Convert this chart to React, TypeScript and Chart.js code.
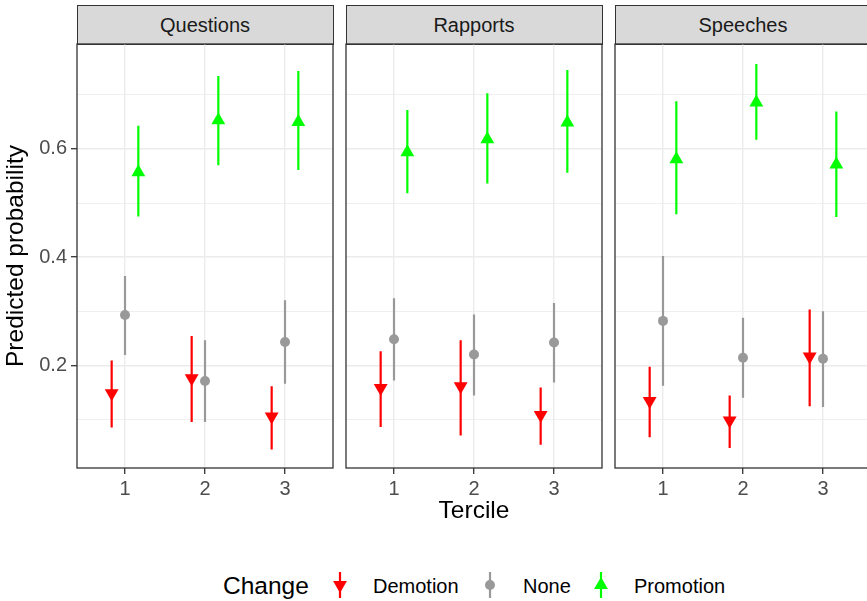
import React, { useEffect, useRef } from 'react';
import { Chart, registerables } from 'chart.js';

Chart.register(...registerables);

// ---------------- DATA ----------------
const facets = ['Questions', 'Rapports', 'Speeches'];
const terciles = [1, 2, 3];
const changes = ['Demotion', 'None', 'Promotion'];
const changeColors = ['#FF0000', '#999999', '#00FF00'];
const dodgeOffsets = [-1 / 6, 0, 1 / 6];

// rows = facets (Questions, Rapports, Speeches), columns = terciles 1..3
const demotionEstimate = [
  [0.148, 0.176, 0.105],
  [0.158, 0.161, 0.108],
  [0.134, 0.098, 0.216],
];
const demotionLower = [
  [0.085, 0.095, 0.044],
  [0.086, 0.07, 0.053],
  [0.067, 0.047, 0.124],
];
const demotionUpper = [
  [0.209, 0.254, 0.161],
  [0.226, 0.246, 0.159],
  [0.197, 0.144, 0.303],
];

const noneEstimate = [
  [0.293, 0.171, 0.243],
  [0.248, 0.22, 0.242],
  [0.282, 0.214, 0.212],
];
const noneLower = [
  [0.219, 0.095, 0.166],
  [0.172, 0.144, 0.168],
  [0.162, 0.14, 0.123],
];
const noneUpper = [
  [0.365, 0.246, 0.32],
  [0.324, 0.294, 0.315],
  [0.402, 0.288, 0.3],
];

const promotionEstimate = [
  [0.557, 0.653, 0.65],
  [0.594, 0.618, 0.649],
  [0.581, 0.686, 0.571],
];
const promotionLower = [
  [0.475, 0.57, 0.561],
  [0.518, 0.536, 0.556],
  [0.479, 0.617, 0.474],
];
const promotionUpper = [
  [0.643, 0.735, 0.744],
  [0.672, 0.703, 0.746],
  [0.688, 0.757, 0.669],
];

const estimates = [demotionEstimate, noneEstimate, promotionEstimate];
const lowers = [demotionLower, noneLower, promotionLower];
const uppers = [demotionUpper, noneUpper, promotionUpper];

const yTicks = [0.1, 0.2, 0.3, 0.4, 0.5, 0.6, 0.7];
const yMajorTicks = [0.2, 0.4, 0.6];
const yMin = 0.01;
const yMax = 0.794;
const xMin = 0.4;
const xMax = 3.6;

const yTitle = 'Predicted probability';
const xTitle = 'Tercile';
const legendTitle = 'Change';

// ---------------- LAYOUT ----------------
const FONT = '"Liberation Sans", Arial, Helvetica, sans-serif';
const SMALL = 20;
const BIG = 24.5;
const PANEL_LEFTS = [77, 346, 615];
const PANEL_W = 256;
const PANEL_TOP = 44;
const PANEL_BOTTOM = 468;
const CANVAS_TOP = 40;
const PAD_TOP = PANEL_TOP - CANVAS_TOP;
const X_AXIS_H = 62;
const CANVAS_H = PAD_TOP + (PANEL_BOTTOM - PANEL_TOP) + X_AXIS_H;

const isMajor = (v: number) => yMajorTicks.some((m) => Math.abs(m - v) < 1e-6);

const panelBorder = {
  id: 'panelBorder',
  afterDatasetsDraw(chart: any) {
    const { ctx, chartArea } = chart;
    ctx.save();
    ctx.strokeStyle = '#333333';
    ctx.lineWidth = 1.3;
    ctx.strokeRect(chartArea.left, chartArea.top, chartArea.right - chartArea.left, chartArea.bottom - chartArea.top);
    ctx.restore();
  },
};

const zeroPadding = (s: any) => {
  s.paddingTop = 0;
  s.paddingBottom = 0;
  s.paddingLeft = 0;
  s.paddingRight = 0;
};

function Panel({ index }: { index: number }) {
  const ref = useRef<HTMLCanvasElement | null>(null);
  const isFirst = index === 0;
  const yAxisW = isFirst ? 77 : 0;
  const padL = isFirst ? 0 : 3;
  const padR = 3;
  const canvasLeft = PANEL_LEFTS[index] - yAxisW - padL;
  const canvasW = padL + yAxisW + PANEL_W + padR;

  useEffect(() => {
    if (!ref.current) return;
    const datasets: any[] = [];
    // Promotion first so that it is drawn on top (Chart.js draws first dataset last)
    for (let c = changes.length - 1; c >= 0; c--) {
      const color = changeColors[c];
      const off = dodgeOffsets[c];
      datasets.push({
        type: 'scatter',
        label: changes[c],
        data: terciles.map((t, k) => ({ x: t + off, y: estimates[c][index][k] })),
        pointStyle: c === 1 ? 'circle' : 'triangle',
        rotation: c === 0 ? 180 : 0,
        pointRadius: c === 1 ? 5 : 8,
        backgroundColor: color,
        borderColor: color,
        borderWidth: 0,
        showLine: false,
      });
      const seg: any[] = [];
      terciles.forEach((t, k) => {
        seg.push({ x: t + off, y: lowers[c][index][k] });
        seg.push({ x: t + off, y: uppers[c][index][k] });
        seg.push({ x: t + off, y: null });
      });
      datasets.push({
        type: 'line',
        label: changes[c] + ' interval',
        data: seg,
        borderColor: color,
        borderWidth: 2.2,
        pointRadius: 0,
        spanGaps: false,
        fill: false,
        tension: 0,
      });
    }

    const chart = new Chart(ref.current, {
      type: 'scatter',
      data: { datasets },
      options: {
        animation: false,
        responsive: false,
        devicePixelRatio: 1,
        layout: { padding: { left: padL, right: padR, top: PAD_TOP, bottom: 0 }, autoPadding: false },
        plugins: { legend: { display: false }, tooltip: { enabled: false }, title: { display: false } },
        scales: {
          x: {
            type: 'linear',
            min: xMin,
            max: xMax,
            afterBuildTicks: (s: any) => {
              s.ticks = terciles.map((v) => ({ value: v }));
            },
            afterFit: (s: any) => {
              s.height = X_AXIS_H;
              zeroPadding(s);
            },
            ticks: {
              color: '#4D4D4D',
              font: { family: FONT, size: SMALL },
              padding: 3,
              autoSkip: false,
              maxRotation: 0,
              callback: (v: any) => String(v),
            },
            grid: {
              color: '#EBEBEB',
              lineWidth: 1.4,
              drawTicks: true,
              tickLength: 6,
              tickColor: '#333333',
              tickWidth: 1.3,
            },
            border: { display: false },
            title: {
              display: index === 1,
              text: xTitle,
              color: '#000000',
              font: { family: FONT, size: BIG },
              padding: { top: 0, bottom: 4 },
            },
          },
          y: {
            type: 'linear',
            min: yMin,
            max: yMax,
            afterBuildTicks: (s: any) => {
              s.ticks = yTicks.map((v) => ({ value: v }));
            },
            afterFit: (s: any) => {
              s.width = yAxisW;
              zeroPadding(s);
            },
            ticks: {
              display: isFirst,
              color: '#4D4D4D',
              font: { family: FONT, size: SMALL },
              padding: 4,
              callback: (v: any) => (isMajor(Number(v)) ? Number(v).toFixed(1) : ''),
            },
            grid: {
              color: '#EBEBEB',
              lineWidth: (ctx: any) => (ctx.tick && isMajor(ctx.tick.value) ? 1.4 : 0.8),
              drawTicks: isFirst,
              tickLength: 6,
              tickWidth: 1.3,
              tickColor: (ctx: any) => (ctx.tick && isMajor(ctx.tick.value) ? '#333333' : 'rgba(0,0,0,0)'),
            },
            border: { display: false },
            title: {
              display: isFirst,
              text: yTitle,
              color: '#000000',
              font: { family: FONT, size: BIG },
              padding: { top: 2, bottom: 0 },
            },
          },
        },
      },
      plugins: [panelBorder],
    } as any);
    return () => chart.destroy();
  }, [index]);

  return (
    <>
      <div
        style={{
          position: 'absolute',
          left: PANEL_LEFTS[index] - 0.5,
          top: 5,
          width: PANEL_W + 1,
          height: PANEL_TOP - 5 + 1,
          boxSizing: 'border-box',
          border: '1.3px solid #333333',
          background: '#D9D9D9',
          display: 'flex',
          alignItems: 'center',
          justifyContent: 'center',
          fontFamily: FONT,
          fontSize: SMALL,
          color: '#1A1A1A',
          lineHeight: '20px',
        }}
      >
        {facets[index]}
      </div>
      <canvas
        ref={ref}
        width={canvasW}
        height={CANVAS_H}
        style={{ position: 'absolute', left: canvasLeft, top: CANVAS_TOP, width: canvasW, height: CANVAS_H }}
      />
    </>
  );
}

function LegendKey({ c, cx, cy }: { c: number; cx: number; cy: number }) {
  const color = changeColors[c];
  const r = 8;
  const h = 13;
  let marker: any;
  if (c === 1) {
    marker = <circle cx={12} cy={16} r={5} fill={color} />;
  } else if (c === 2) {
    marker = (
      <polygon
        points={`12,${16 - r} ${12 + r * 0.866},${16 + r / 2} ${12 - r * 0.866},${16 + r / 2}`}
        fill={color}
      />
    );
  } else {
    marker = (
      <polygon
        points={`12,${16 + r} ${12 + r * 0.866},${16 - r / 2} ${12 - r * 0.866},${16 - r / 2}`}
        fill={color}
      />
    );
  }
  return (
    <svg width={24} height={32} style={{ position: 'absolute', left: cx - 12, top: cy - 16 }}>
      <line x1={12} x2={12} y1={16 - h} y2={16 + h} stroke={color} strokeWidth={2.2} />
      {marker}
    </svg>
  );
}

const legendKeyX = [340, 490, 601];
const legendLabelX = [373, 523, 634];
const LEGEND_Y = 585;

export default function App() {
  useEffect(() => {
    document.body.style.margin = '0';
  }, []);
  return (
    <div
      style={{
        position: 'absolute',
        left: 0,
        top: 0,
        width: 867,
        height: 601,
        overflow: 'hidden',
        background: '#FFFFFF',
      }}
    >
      {facets.map((_, i) => (
        <Panel key={i} index={i} />
      ))}
      <div
        style={{
          position: 'absolute',
          left: 223,
          top: LEGEND_Y + 1 - 15,
          height: 30,
          lineHeight: '30px',
          fontFamily: FONT,
          fontSize: BIG,
          color: '#000000',
          whiteSpace: 'nowrap',
        }}
      >
        {legendTitle}
      </div>
      {changes.map((name, c) => (
        <React.Fragment key={name}>
          <LegendKey c={c} cx={legendKeyX[c]} cy={LEGEND_Y} />
          <div
            style={{
              position: 'absolute',
              left: legendLabelX[c],
              top: LEGEND_Y + 1 - 12,
              height: 24,
              lineHeight: '24px',
              fontFamily: FONT,
              fontSize: SMALL,
              color: '#000000',
              whiteSpace: 'nowrap',
            }}
          >
            {name}
          </div>
        </React.Fragment>
      ))}
    </div>
  );
}
